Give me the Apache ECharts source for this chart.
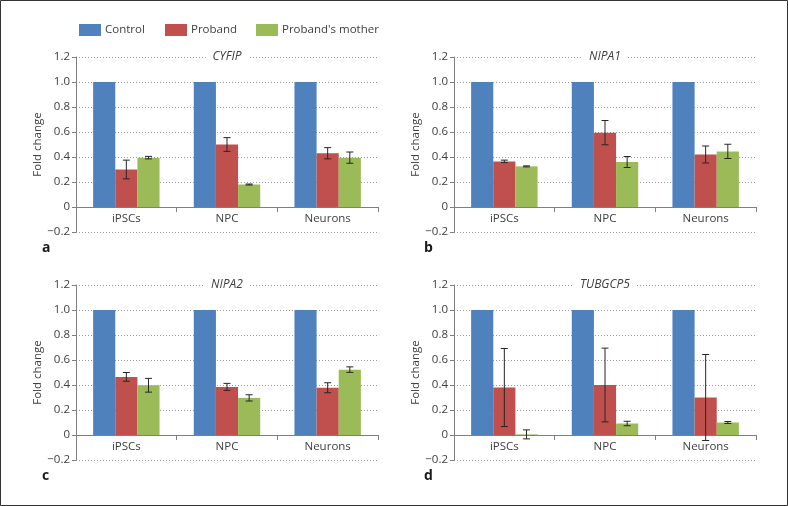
<!DOCTYPE html>
<html>
<head>
<meta charset="utf-8">
<script src="https://cdn.jsdelivr.net/npm/echarts@6/dist/echarts.min.js"></script>
<style>
html,body{margin:0;padding:0;background:#fff;}
#chart{width:788px;height:506px;}
</style>
</head>
<body>
<div id="chart"></div>
<script>
const categories = ['iPSCs', 'NPC', 'Neurons'];
const seriesNames = ['Control', 'Proband', "Proband's mother"];
const genes = ['CYFIP', 'NIPA1', 'NIPA2', 'TUBGCP5'];
const panelLetters = ['a', 'b', 'c', 'd'];
const yTicks = [-0.2, 0, 0.2, 0.4, 0.6, 0.8, 1.0, 1.2];

// CYFIP
const controlCYFIP = [1.0, 1.0, 1.0];
const probandCYFIP = [0.30, 0.50, 0.43];
const probandErrCYFIP = [0.075, 0.055, 0.045];
const motherCYFIP = [0.395, 0.18, 0.395];
const motherErrCYFIP = [0.01, 0.004, 0.045];

// NIPA1
const controlNIPA1 = [1.0, 1.0, 1.0];
const probandNIPA1 = [0.365, 0.595, 0.42];
const probandErrNIPA1 = [0.01, 0.097, 0.068];
const motherNIPA1 = [0.325, 0.36, 0.445];
const motherErrNIPA1 = [0.004, 0.044, 0.057];

// NIPA2
const controlNIPA2 = [1.0, 1.0, 1.0];
const probandNIPA2 = [0.465, 0.385, 0.378];
const probandErrNIPA2 = [0.035, 0.028, 0.04];
const motherNIPA2 = [0.398, 0.297, 0.523];
const motherErrNIPA2 = [0.055, 0.025, 0.022];

// TUBGCP5
const controlTUBGCP5 = [1.0, 1.0, 1.0];
const probandTUBGCP5 = [0.38, 0.40, 0.30];
const probandErrTUBGCP5 = [0.312, 0.295, 0.344];
const motherTUBGCP5 = [0.005, 0.092, 0.10];
const motherErrTUBGCP5 = [0.036, 0.018, 0.008];

const panels = [
  [controlCYFIP, probandCYFIP, probandErrCYFIP, motherCYFIP, motherErrCYFIP],
  [controlNIPA1, probandNIPA1, probandErrNIPA1, motherNIPA1, motherErrNIPA1],
  [controlNIPA2, probandNIPA2, probandErrNIPA2, motherNIPA2, motherErrNIPA2],
  [controlTUBGCP5, probandTUBGCP5, probandErrTUBGCP5, motherTUBGCP5, motherErrTUBGCP5]
];

const colors = ['#4F81BD', '#C0504D', '#9BBB59'];
const FONT = '"Open Sans", "Noto Sans", sans-serif';
const GAP = 0.34;
const W = 788, H = 506;
const YMIN = yTicks[0], YMAX = yTicks[yTicks.length - 1];

const grids = [
  {left: 76, right: 410, top: 57, bottom: 274},
  {left: 454, right: 32, top: 57, bottom: 274},
  {left: 76, right: 410, top: 285, bottom: 46},
  {left: 454, right: 32, top: 285, bottom: 46}
];

function fmt(v) {
  if (Math.abs(v) < 1e-9) return '0';
  if (v < 0) return '\u2212' + (-v).toFixed(1);
  return v.toFixed(1);
}

const xAxes = [], yAxes = [], series = [], graphics = [];

grids.forEach((g, i) => {
  const gh = H - g.top - g.bottom;
  const zeroOffset = -gh * (0 - YMIN) / (YMAX - YMIN);
  xAxes.push({
    type: 'category', gridIndex: i, data: categories, position: 'bottom',
    offset: zeroOffset,
    axisLine: {onZero: false, lineStyle: {color: '#7f7f7f', width: 1}},
    axisTick: {show: true, length: 5, lineStyle: {color: '#7f7f7f'}},
    axisLabel: {color: '#404040', fontFamily: FONT, fontSize: 11.5, margin: 6},
    splitLine: {show: false}
  });
  yAxes.push({
    type: 'value', gridIndex: i, min: YMIN, max: YMAX, interval: 0.2,
    name: 'Fold change', nameLocation: 'middle', nameGap: 32,
    nameTextStyle: {color: '#404040', fontFamily: FONT, fontSize: 11.5},
    axisLine: {show: true, lineStyle: {color: '#7f7f7f'}},
    axisTick: {show: true, length: 4, lineStyle: {color: '#7f7f7f'}},
    axisLabel: {color: '#404040', fontFamily: FONT, fontSize: 11.5, margin: 6, formatter: fmt},
    splitLine: {show: true, lineStyle: {color: '#9a9a9a', type: [1, 2], width: 1}}
  });
  const d = panels[i];
  const vals = [d[0], d[1], d[3]];
  vals.forEach((arr, k) => {
    series.push({
      name: seriesNames[k], type: 'bar', xAxisIndex: i, yAxisIndex: i,
      data: arr, barGap: '0%', barCategoryGap: (GAP * 100) + '%',
      itemStyle: {color: colors[k]}, emphasis: {disabled: true}, z: 2
    });
  });
  [[d[1], d[2], 1], [d[3], d[4], 2]].forEach(([v, e, pos]) => {
    series.push({
      type: 'custom', xAxisIndex: i, yAxisIndex: i, z: 5,
      data: v.map((val, j) => [j, val, e[j]]),
      renderItem: function (params, api) {
        const x = api.value(0), val = api.value(1), err = api.value(2);
        const band = api.size([1, 0])[0];
        const bw = band * (1 - GAP) / 3;
        const cx = api.coord([x, val])[0] + (pos - 1) * bw;
        const hi = api.coord([x, val + err])[1];
        const lo = api.coord([x, val - err])[1];
        const cap = 3.5;
        const st = {stroke: '#262626', lineWidth: 1};
        return {type: 'group', children: [
          {type: 'line', shape: {x1: cx, y1: hi, x2: cx, y2: lo}, style: st},
          {type: 'line', shape: {x1: cx - cap, y1: hi, x2: cx + cap, y2: hi}, style: st},
          {type: 'line', shape: {x1: cx - cap, y1: lo, x2: cx + cap, y2: lo}, style: st}
        ]};
      }
    });
  });
  const cx = g.left + (W - g.left - g.right) / 2;
  graphics.push({
    type: 'text', x: cx, y: g.top, z: 100,
    style: {
      text: genes[i], font: 'italic 12px ' + FONT, fill: '#404040',
      align: 'center', verticalAlign: 'middle',
      backgroundColor: '#fff', padding: [2, 7]
    }
  });
  graphics.push({
    type: 'text', x: (i % 2 === 0) ? 42 : 424, y: (H - g.bottom) + 16, z: 100,
    style: {text: panelLetters[i], font: 'bold 14px ' + FONT, fill: '#1a1a1a', verticalAlign: 'middle'}
  });
});

graphics.push({
  type: 'rect', shape: {x: 0.5, y: 0.5, width: 787, height: 505}, z: 100,
  style: {fill: 'none', stroke: '#333', lineWidth: 1}, silent: true
});

const legendLefts = [79, 165, 256];
const legends = seriesNames.map((n, k) => ({
  data: [n], left: legendLefts[k], top: 24, itemWidth: 22, itemHeight: 12, icon: 'rect',
  padding: 0, selectedMode: false,
  textStyle: {color: '#404040', fontFamily: FONT, fontSize: 11.5, padding: [0, 0, 0, -1]}
}));

const chart = echarts.init(document.getElementById('chart'), null, {renderer: 'canvas'});
chart.setOption({
  animation: false,
  backgroundColor: '#fff',
  legend: legends,
  grid: grids,
  xAxis: xAxes,
  yAxis: yAxes,
  series: series,
  graphic: graphics
});
</script>
</body>
</html>
